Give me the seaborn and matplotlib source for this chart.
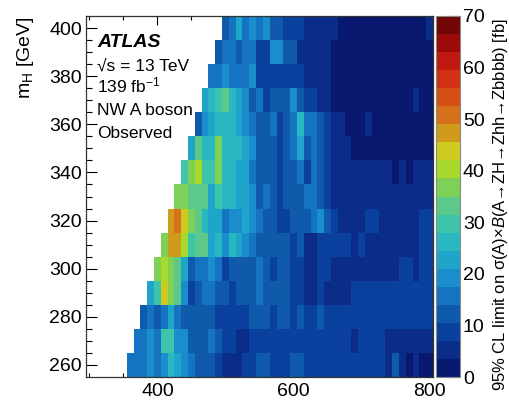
import numpy as np
import pandas as pd
import matplotlib
matplotlib.use("Agg")
import matplotlib.pyplot as plt
from matplotlib.colors import ListedColormap, BoundaryNorm
import seaborn as sns

# ---------------------------------------------------------------------------
# Observed 95% CL upper limits [fb] on sigma(A) x B(A->ZH->Zhh->Zbbbb),
# one row per m_H hypothesis, listed from the first allowed m_A upward.
# ---------------------------------------------------------------------------
mA_values = list(range(300, 801, 10))
mH_values = list(range(260, 401, 10))
first_mA = [360, 370, 380, 390, 400, 410, 420, 430, 440, 450, 460, 470, 480, 490, 500]

limit_mH260 = [15.8, 15.8, 15.8, 19.3, 15.8, 19.3, 26.2, 22.7, 19.3, 15.8,
               12.2, 12.2, 12.2, 8.7, 5.2, 5.2, 5.2, 8.7, 8.7, 12.2,
               12.2, 8.7, 8.7, 8.7, 12.2, 12.2, 8.7, 8.7, 8.7, 8.7,
               8.7, 8.7, 8.7, 8.7, 8.7, 8.7, 8.7, 8.7, 5.2, 12.2,
               5.2, 1.8, 5.2, 1.8, 1.8]
limit_mH270 = [15.8, 15.8, 19.3, 15.8, 29.8, 29.8, 19.3, 19.3, 12.2, 12.2,
               12.2, 15.8, 12.2, 8.7, 8.7, 5.2, 5.2, 8.7, 8.7, 8.7,
               8.7, 8.7, 8.7, 8.7, 8.7, 8.7, 8.7, 8.7, 8.7, 8.7,
               8.7, 8.7, 5.2, 8.7, 8.7, 8.7, 8.7, 5.2, 5.2, 5.2,
               5.2, 5.2, 5.2, 5.2]
limit_mH280 = [12.2, 15.8, 12.2, 15.8, 22.7, 15.8, 12.2, 12.2, 12.2, 12.2,
               12.2, 8.7, 8.7, 8.7, 8.7, 8.7, 12.2, 12.2, 12.2, 8.7,
               12.2, 12.2, 8.7, 12.2, 8.7, 8.7, 12.2, 8.7, 8.7, 8.7,
               8.7, 8.7, 8.7, 8.7, 8.7, 8.7, 8.7, 8.7, 8.7, 8.7,
               8.7, 8.7, 8.7]
limit_mH290 = [22.7, 29.8, 43.8, 36.7, 33.2, 19.3, 8.7, 12.2, 15.8, 15.8,
               12.2, 12.2, 8.7, 12.2, 12.2, 12.2, 15.8, 12.2, 12.2, 12.2,
               12.2, 8.7, 8.7, 5.2, 5.2, 8.7, 5.2, 5.2, 5.2, 5.2,
               8.7, 8.7, 8.7, 8.7, 8.7, 8.7, 8.7, 8.7, 8.7, 8.7,
               8.7, 8.7]
limit_mH300 = [36.7, 40.2, 36.7, 33.2, 22.7, 12.2, 15.8, 15.8, 19.3, 15.8,
               8.7, 12.2, 12.2, 12.2, 12.2, 15.8, 12.2, 8.7, 12.2, 12.2,
               8.7, 8.7, 5.2, 5.2, 8.7, 8.7, 5.2, 5.2, 5.2, 5.2,
               5.2, 5.2, 5.2, 5.2, 5.2, 5.2, 8.7, 8.7, 5.2, 8.7,
               8.7]
limit_mH310 = [36.7, 47.2, 47.2, 40.2, 29.8, 33.2, 33.2, 22.7, 26.2, 19.3,
               26.2, 22.7, 19.3, 15.8, 12.2, 12.2, 12.2, 12.2, 12.2, 8.7,
               12.2, 5.2, 5.2, 8.7, 8.7, 8.7, 8.7, 8.7, 5.2, 8.7,
               5.2, 5.2, 5.2, 5.2, 5.2, 5.2, 5.2, 5.2, 8.7, 8.7]
limit_mH320 = [47.2, 50.8, 43.8, 36.7, 33.2, 26.2, 22.7, 22.7, 15.8, 19.3,
               19.3, 22.7, 19.3, 15.8, 12.2, 12.2, 8.7, 8.7, 12.2, 12.2,
               12.2, 15.8, 19.3, 12.2, 8.7, 5.2, 5.2, 5.2, 5.2, 8.7,
               8.7, 5.2, 5.2, 5.2, 5.2, 5.2, 5.2, 8.7, 8.7]
limit_mH330 = [36.7, 36.7, 33.2, 33.2, 33.2, 22.7, 29.8, 26.2, 26.2, 22.7,
               22.7, 19.3, 12.2, 15.8, 12.2, 8.7, 12.2, 12.2, 12.2, 15.8,
               15.8, 12.2, 8.7, 5.2, 5.2, 5.2, 5.2, 5.2, 5.2, 5.2,
               5.2, 5.2, 5.2, 5.2, 5.2, 5.2, 5.2, 5.2]
limit_mH340 = [29.8, 36.7, 40.2, 29.8, 29.8, 36.7, 26.2, 26.2, 22.7, 22.7,
               15.8, 12.2, 12.2, 12.2, 8.7, 12.2, 12.2, 15.8, 8.7, 15.8,
               12.2, 8.7, 5.2, 5.2, 5.2, 5.2, 5.2, 5.2, 5.2, 5.2,
               5.2, 1.8, 5.2, 1.8, 5.2, 5.2, 5.2]
limit_mH350 = [22.7, 33.2, 26.2, 26.2, 36.7, 26.2, 26.2, 26.2, 22.7, 19.3,
               12.2, 12.2, 12.2, 8.7, 12.2, 15.8, 22.7, 12.2, 15.8, 12.2,
               8.7, 5.2, 5.2, 5.2, 1.8, 1.8, 1.8, 1.8, 1.8, 1.8,
               1.8, 1.8, 1.8, 1.8, 1.8, 1.8]
limit_mH360 = [12.2, 19.3, 22.7, 26.2, 26.2, 26.2, 22.7, 19.3, 15.8, 12.2,
               12.2, 15.8, 8.7, 12.2, 15.8, 26.2, 15.8, 15.8, 12.2, 8.7,
               5.2, 5.2, 1.8, 1.8, 1.8, 5.2, 1.8, 1.8, 1.8, 1.8,
               1.8, 1.8, 1.8, 1.8, 1.8]
limit_mH370 = [22.7, 26.2, 29.8, 33.2, 26.2, 22.7, 19.3, 12.2, 15.8, 8.7,
               12.2, 12.2, 12.2, 19.3, 12.2, 8.7, 8.7, 5.2, 5.2, 1.8,
               1.8, 1.8, 1.8, 1.8, 1.8, 1.8, 1.8, 1.8, 1.8, 1.8,
               1.8, 5.2, 1.8, 1.8]
limit_mH380 = [15.8, 15.8, 19.3, 15.8, 15.8, 15.8, 19.3, 8.7, 8.7, 8.7,
               8.7, 8.7, 8.7, 8.7, 5.2, 5.2, 5.2, 5.2, 1.8, 1.8,
               1.8, 1.8, 1.8, 1.8, 1.8, 1.8, 1.8, 1.8, 1.8, 1.8,
               1.8, 1.8, 1.8]
limit_mH390 = [12.2, 15.8, 15.8, 12.2, 15.8, 15.8, 8.7, 8.7, 19.3, 19.3,
               12.2, 12.2, 5.2, 5.2, 5.2, 5.2, 5.2, 1.8, 1.8, 1.8,
               1.8, 1.8, 1.8, 1.8, 1.8, 1.8, 1.8, 1.8, 1.8, 1.8,
               1.8, 1.8]
limit_mH400 = [12.2, 15.8, 22.7, 15.8, 19.3, 15.8, 19.3, 12.2, 12.2, 8.7,
               8.7, 8.7, 5.2, 5.2, 5.2, 5.2, 5.2, 1.8, 1.8, 1.8,
               1.8, 1.8, 1.8, 1.8, 1.8, 1.8, 1.8, 1.8, 1.8, 1.8,
               5.2]

limit_rows = [limit_mH260, limit_mH270, limit_mH280, limit_mH290, limit_mH300,
              limit_mH310, limit_mH320, limit_mH330, limit_mH340, limit_mH350,
              limit_mH360, limit_mH370, limit_mH380, limit_mH390, limit_mH400]

# colour scale: 20 discrete levels between 0 and 70 fb
level_colors = ["#08186e", "#0b2c88", "#0b419e", "#0f5aab", "#1474c2",
                "#1a8dcc", "#1fa5ca", "#29b8c2", "#3ec4aa", "#5cc98a",
                "#7ed056", "#a8da2e", "#cdcc1e", "#d09a1c", "#d6701a",
                "#d65016", "#d23214", "#c01a10", "#9c0a0a", "#700606"]
z_min, z_max = 0.0, 70.0
cbar_ticks = [0, 10, 20, 30, 40, 50, 60, 70]

# ---------------------------------------------------------------------------
# assemble the (m_H, m_A) grid; cells outside the kinematic region stay empty
# ---------------------------------------------------------------------------
grid = pd.DataFrame(np.nan, index=mH_values, columns=mA_values)
for mH, start, vals in zip(mH_values, first_mA, limit_rows):
    cols = [start + 10 * i for i in range(len(vals))]
    grid.loc[mH, cols] = vals
grid = grid.sort_index(ascending=False)   # highest m_H on top

sns.set_style("white")
plt.rcParams["font.family"] = ["Liberation Sans", "DejaVu Sans"]
plt.rcParams["mathtext.fontset"] = "custom"
plt.rcParams["mathtext.rm"] = "Liberation Sans"
plt.rcParams["mathtext.it"] = "Liberation Sans:italic"
plt.rcParams["mathtext.bf"] = "Liberation Sans:bold"
for key in ("text.color", "axes.labelcolor", "xtick.color", "ytick.color"):
    plt.rcParams[key] = "black"

cmap = ListedColormap(level_colors)
bounds = np.linspace(z_min, z_max, len(level_colors) + 1)
norm = BoundaryNorm(bounds, cmap.N)

fig = plt.figure(figsize=(5.09, 4.03), dpi=100)
ax = fig.add_axes([86 / 509, 26 / 403, 347 / 509, 361 / 403])
cax = fig.add_axes([436 / 509, 26 / 403, 24 / 509, 361 / 403])

sns.heatmap(grid, ax=ax, cbar_ax=cax, cmap=cmap, norm=norm,
            xticklabels=False, yticklabels=False,
            cbar_kws={"ticks": cbar_ticks})
ax.set_xlabel("")
ax.set_ylabel("")

# map physical masses onto heatmap cell coordinates
dA = mA_values[1] - mA_values[0]
dH = mH_values[1] - mH_values[0]
def xpos(m):
    return (m - mA_values[0]) / dA + 0.5
def ypos(m):
    return (mH_values[-1] - m) / dH + 0.5

x_major = [400, 600, 800]
x_minor = [m for m in range(300, 801, 50) if m not in x_major]
y_major = list(range(260, 401, 20))
y_minor = [m for m in range(260, 401, 5) if m not in y_major]

ax.set_xticks([xpos(m) for m in x_major])
ax.set_xticklabels([str(m) for m in x_major], rotation=0)
ax.set_xticks([xpos(m) for m in x_minor], minor=True)
ax.set_yticks([ypos(m) for m in y_major])
ax.set_yticklabels([str(m) for m in y_major], rotation=0)
ax.set_yticks([ypos(m) for m in y_minor], minor=True)

for side in ax.spines.values():
    side.set_visible(True)
    side.set_color("#333333")
    side.set_linewidth(0.9)

ax.tick_params(which="both", direction="in", top=True, right=True,
               bottom=True, left=True, color="black", labelcolor="black",
               width=0.8)
ax.tick_params(axis="x", which="major", length=6.5, labelsize=14, pad=4)
ax.tick_params(axis="x", which="minor", length=3.2)
ax.tick_params(axis="y", which="major", length=8, labelsize=14, pad=3)
ax.tick_params(axis="y", which="minor", length=4)

ax.set_ylabel(r"m$_{\mathrm{H}}$ [GeV]", fontsize=14, loc="top", color="black")
ax.yaxis.set_label_coords(-0.145, 1.0)

# labels inside the frame
tx = 0.032
ax.text(tx, 0.915, "ATLAS", transform=ax.transAxes, fontsize=14,
        fontweight="bold", fontstyle="italic", va="baseline", color="black")
ax.text(tx, 0.848, "\u221as = 13 TeV", transform=ax.transAxes,
        fontsize=12.5, va="baseline", color="black")
ax.text(tx, 0.789, r"139 fb$^{-1}$", transform=ax.transAxes,
        fontsize=12.5, va="baseline", color="black")
ax.text(tx, 0.726, "NW A boson", transform=ax.transAxes,
        fontsize=12.5, va="baseline", color="black")
ax.text(tx, 0.662, "Observed", transform=ax.transAxes,
        fontsize=12.5, va="baseline", color="black")

# colour bar styling
cbar = ax.collections[0].colorbar
cbar.outline.set_visible(True)
cbar.outline.set_linewidth(0.8)
cbar.outline.set_edgecolor("#888888")
cax.tick_params(which="both", direction="in", length=8.6, width=0.8,
                labelsize=14, pad=2, right=True, left=False, color="black",
                labelcolor="black")
cax.minorticks_off()
fig.text(500 / 509, (403 - 205) / 403,
         "95% CL limit on \u03c3(A)\u00d7$\\mathit{B}$(A\u2192ZH\u2192Zhh\u2192Zbbbb) [fb]",
         rotation=90, ha="center", va="center", fontsize=12, color="black")

fig.savefig("out.png", dpi=100, facecolor="white")
